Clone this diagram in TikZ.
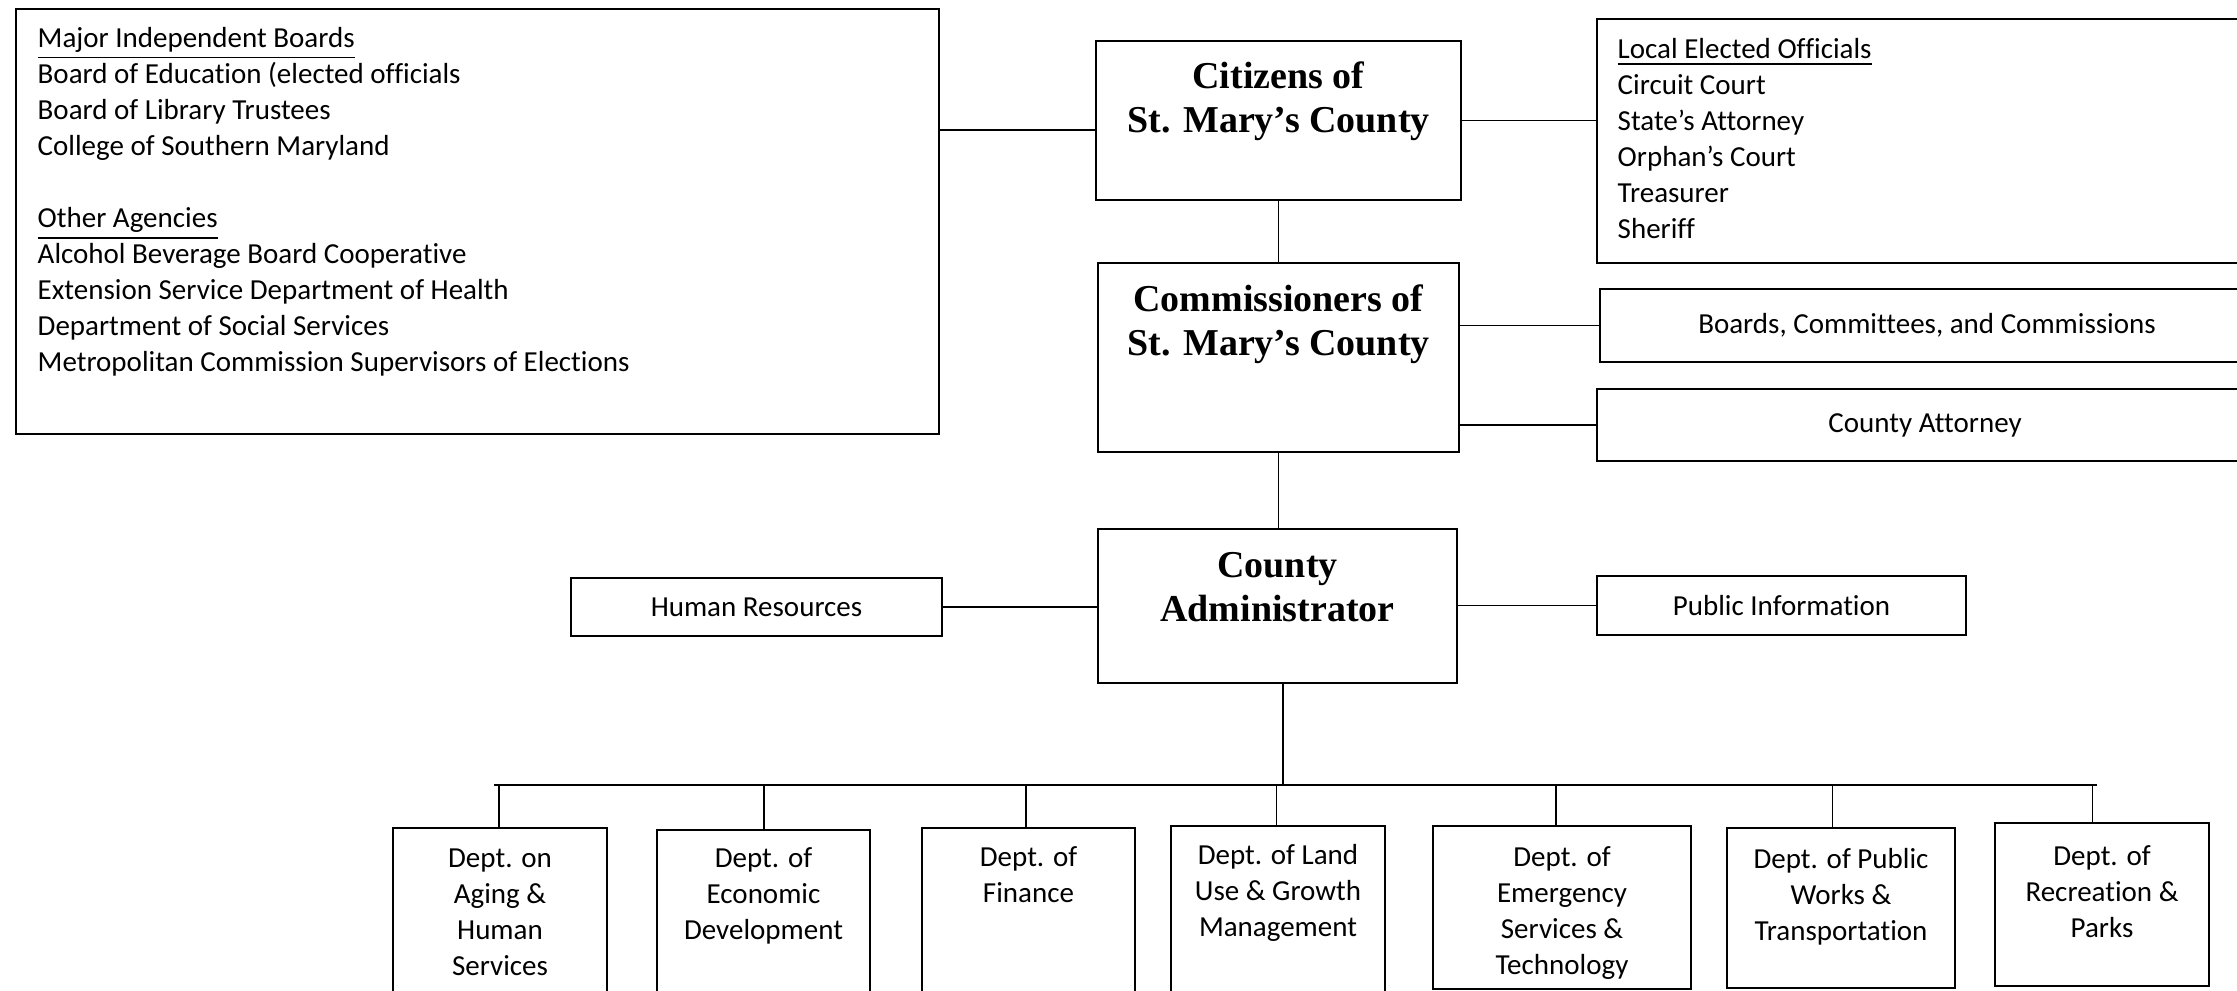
\documentclass[tikz,border=0pt]{standalone}
\usepackage{fontspec}
\setmainfont{Carlito}[Ligatures=NoCommon]
\newfontfamily\titlefont{Liberation Serif}
\usetikzlibrary{positioning}

\begin{document}
\begin{tikzpicture}[
    x=0.01cm, y=-0.01cm,
    every node/.style={align=center, inner sep=0pt, font=\fontsize{8.25pt}{10.24pt}\selectfont},
    box/.style={rectangle, draw, line width=0.5pt},
    mainBox/.style={rectangle, draw, line width=0.75pt},
    listText/.style={align=left, anchor=north west},
    deptText/.style={anchor=north},
    titleText/.style={anchor=north, font=\fontsize{10.8pt}{12.5pt}\selectfont\titlefont\bfseries},
    link/.style={line width=0.35pt}
]
\useasboundingbox (0,0) rectangle (2237,990);
\clip (0,0) rectangle (2237,990);

% Nodes
\node[box, minimum width=9.23cm, minimum height=4.25cm] (agencies) at (477.5,221.5) {};
\node[listText] (agencyList) at (37,27) {\underline{Major Independent Boards}\\Board of Education (elected officials\\Board of Library Trustees\\College of Southern Maryland\\[0.36cm]\underline{Other Agencies}\\Alcohol Beverage Board Cooperative\\Extension Service Department of Health\\Department of Social Services\\Metropolitan Commission Supervisors of Elections};

\node[mainBox, minimum width=3.65cm, minimum height=1.59cm] (cit) at (1278.5,120.5) {};
\node[titleText] (citText) at (1278.5,61) {Citizens of\\St. Mary’s County};

\node[box, minimum width=6.80cm, minimum height=2.44cm] (local) at (1937,141) {};
\node[listText] (localList) at (1617,38) {\underline{Local Elected Officials}\\Circuit Court\\State’s Attorney\\Orphan’s Court\\Treasurer\\Sheriff};

\node[mainBox, minimum width=3.61cm, minimum height=1.89cm] (comm) at (1278.5,357.5) {};
\node[titleText] (commText) at (1278.5,284) {Commissioners of\\St. Mary’s County};

\node[box, minimum width=6.54cm, minimum height=0.73cm] (bcc) at (1927,325.5) {Boards, Committees, and Commissions};
\node[box, minimum width=6.56cm, minimum height=0.72cm] (att) at (1925,425) {County Attorney};

\node[mainBox, minimum width=3.59cm, minimum height=1.54cm] (adm) at (1277.5,606) {};
\node[titleText] (admText) at (1277.5,552) {County\\Administrator};

\node[box, minimum width=3.71cm, minimum height=0.58cm] (hr) at (756.5,607) {Human Resources};
\node[box, minimum width=3.69cm, minimum height=0.59cm] (pi) at (1781.5,605.5) {Public Information};

\node[box, minimum width=2.14cm, minimum height=1.82cm] (d1) at (500,919) {};
\node[box, minimum width=2.13cm, minimum height=1.80cm] (d2) at (763.5,920) {};
\node[box, minimum width=2.13cm, minimum height=1.82cm] (d3) at (1028.5,919) {};
\node[box, minimum width=2.14cm, minimum height=1.84cm] (d4) at (1278,918) {};
\node[box, minimum width=2.58cm, minimum height=1.63cm] (d5) at (1562,907.5) {};
\node[box, minimum width=2.28cm, minimum height=1.60cm] (d6) at (1841,908) {};
\node[box, minimum width=2.14cm, minimum height=1.63cm] (d7) at (2102,904.5) {};

\node[deptText] (d1Text) at (500,848) {Dept. on\\Aging \&\\Human\\Services};
\node[deptText] (d2Text) at (763.5,847) {Dept. of\\Economic\\Development};
\node[deptText] (d3Text) at (1028.5,846) {Dept. of\\Finance};
\node[deptText] (d4Text) at (1278,844) {Dept. of Land\\Use \& Growth\\Management};
\node[deptText] (d5Text) at (1562,846) {Dept. of\\Emergency\\Services \&\\Technology};
\node[deptText] (d6Text) at (1841,848) {Dept. of Public\\Works \&\\Transportation};
\node[deptText] (d7Text) at (2102,845) {Dept. of\\Recreation \&\\Parks};

% Bus and stems
\coordinate (busL) at (494,785);
\coordinate (busR) at (2097,785);
\coordinate (drop) at (1283,785);
\coordinate (s1) at (499,785);
\coordinate (s2) at (764,785);
\coordinate (s3) at (1026,785);
\coordinate (s4) at (1276.5,785);
\coordinate (s5) at (1556,785);
\coordinate (s6) at (1832.5,785);
\coordinate (s7) at (2092.5,785);
\coordinate (citL) at ([yshift=-0.095cm]cit.west);

% Lines
\draw[link] (citL) -- (citL -| agencies.east);
\draw[link] (cit.east) -- (cit.east -| local.west);
\draw[link] (cit) -- (comm);
\draw[link] (bcc.west) -- (bcc.west -| comm.east);
\draw[link] (att.west) -- (att.west -| comm.east);
\draw[link] (comm.south) -- (comm.south |- adm.north);
\draw[link] (hr.east) -- (hr.east -| adm.west);
\draw[link] (pi.west) -- (pi.west -| adm.east);
\draw[link] (drop |- adm.south) -- (drop);
\draw[link] (busL) -- (busR);
\draw[link] (s1) -- (s1 |- d1.north);
\draw[link] (s2) -- (s2 |- d2.north);
\draw[link] (s3) -- (s3 |- d3.north);
\draw[link] (s4) -- (s4 |- d4.north);
\draw[link] (s5) -- (s5 |- d5.north);
\draw[link] (s6) -- (s6 |- d6.north);
\draw[link] (s7) -- (s7 |- d7.north);

\end{tikzpicture}
\end{document}
